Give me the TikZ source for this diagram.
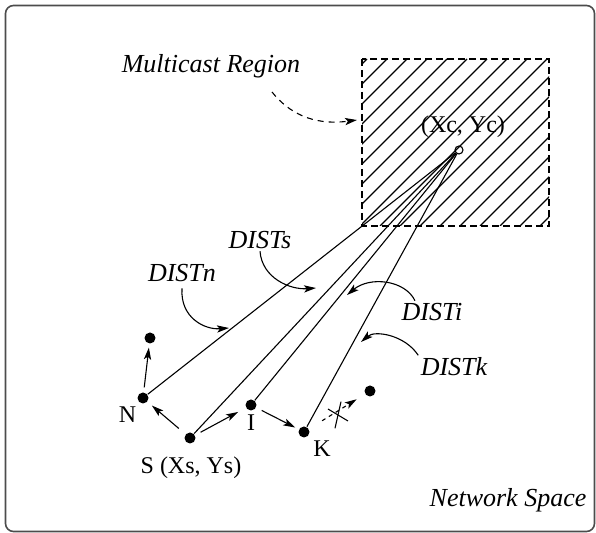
\documentclass[tikz,border=0pt]{standalone}
\usepackage{fontspec}
\setmainfont{Liberation Serif}
\usetikzlibrary{arrows.meta}
\tikzset{
  dot/.style={circle,fill,inner sep=0pt,minimum size=5.5pt},
  hole/.style={circle,draw,inner sep=0pt,minimum size=4pt},
  lab/.style={inner sep=1pt,font=\fontsize{12}{14}\selectfont},
  ilab/.style={inner sep=1pt,font=\fontsize{13}{15}\selectfont\itshape},
  arr/.style={-{Stealth[length=6pt,width=3.6pt,inset=1.4pt]}},
  region/.style={dash pattern=on 3.5pt off 2pt}
}

\begin{document}
\begin{tikzpicture}[x=0.5pt,y=-0.5pt,line width=0.55pt]
\useasboundingbox (0,0) rectangle (596,533);
\draw[black!70,line width=0.8pt,rounded corners=4pt] (5.5,5.5) rectangle (594.5,531.5);

\begin{scope}
  \clip (362,59) rectangle (549,226);
  \foreach \c in {426,446,...,766}
    \draw (\c-226,226) -- (\c-59,59);
\end{scope}
\draw[region] (362,59) rectangle (549,226);

\node[hole] (C) at (459,150) {};
\node[lab] (Cl) at (463,127) {(Xc, Yc)};
\node[ilab] (mr) at (211,66) {Multicast Region};
\node[ilab] (ns) at (508,500) {Network Space};

\node[dot] (N) at (143,398) {};
\node[dot] (N2) at (150,338) {};
\node[dot] (S) at (190,438) {};
\node[dot] (I) at (251,405) {};
\node[dot] (K) at (304,432) {};
\node[dot] (K2) at (370,391) {};
\node[lab] (Nl) at (127.5,415) {N};
\node[lab] (Il) at (251,423) {I};
\node[lab] (Kl) at (322,449) {K};
\node[lab] (Sl) at (191,468) {S (Xs, Ys)};

\node[ilab] (ln) at (182,273) {DISTn};
\node[ilab] (ls) at (260,240) {DISTs};
\node[ilab] (li) at (432,312) {DISTi};
\node[ilab] (lk) at (454,367) {DISTk};

\draw (C) -- (N);
\draw (C) -- (S);
\draw (C) -- (I);
\draw (C) -- (K);

\draw[arr,shorten <=2.3pt,shorten >=1.8pt] (N) -- (N2);
\draw[arr,shorten <=4.3pt,shorten >=2.8pt] (S) -- (N);
\draw[arr,shorten <=3pt,shorten >=4.3pt] (S) -- (I);
\draw[arr,shorten <=3pt,shorten >=1.9pt] (I) -- (K);
\draw[arr,dash pattern=on 2pt off 2pt,shorten <=7.6pt,shorten >=4.8pt] (K) -- (K2);
\coordinate (X) at (338,415);
\draw ([shift={(-10,-6)}]X) -- ([shift={(10,6)}]X);
\draw ([shift={(3,-13.3)}]X) -- ([shift={(-3,13.3)}]X);

\coordinate (mrs) at (272,92);
\coordinate (mrt) at (357,120);
\draw[arr,dash pattern=on 3pt off 2.5pt] (mrs) .. controls (288,112) and (312,126) .. (mrt);

\coordinate (tn) at (229,328);
\coordinate (ts) at (316,288);
\coordinate (ti) at (347,295);
\coordinate (tk) at (361,342);
\draw[arr] ([yshift=-2pt]ln.south) .. controls (180,318) and (205,330) .. (tn);
\draw[arr] (ls.south) .. controls (262,278) and (290,290) .. (ts);
\draw[arr] ([xshift=-8.5pt]li.north) .. controls (405,280) and (370,276) .. (ti);
\draw[arr] (lk.north west) .. controls (405,335) and (375,330) .. (tk);
\end{tikzpicture}
\end{document}
